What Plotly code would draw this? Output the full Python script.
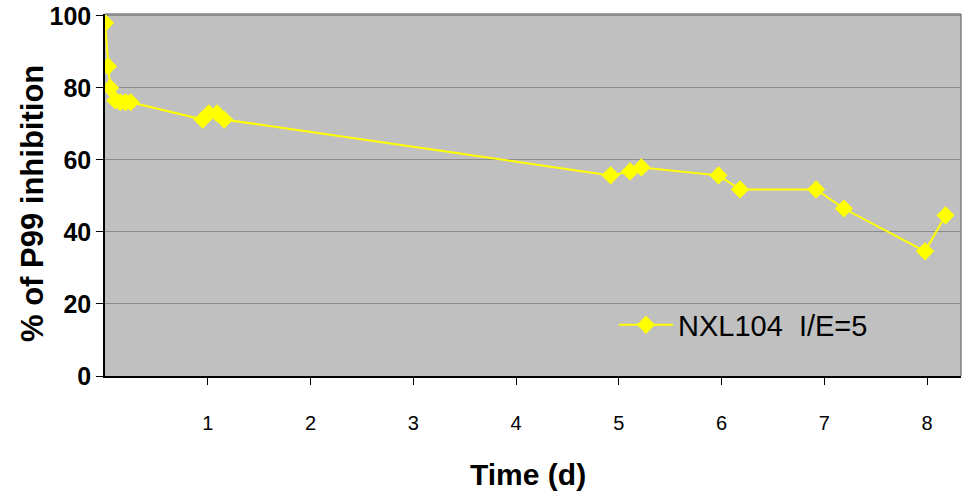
import plotly.graph_objects as go

time_d = [0.0, 0.03, 0.05, 0.10, 0.15, 0.20, 0.25, 0.95, 1.01, 1.09, 1.16,
          4.92, 5.11, 5.22, 5.97, 6.18, 6.92, 7.19, 7.98, 8.18]
inhibition = [98, 86, 80, 76.5, 76, 76, 76, 71.2, 72.9, 72.9, 71.2,
              55.7, 56.8, 57.9, 55.7, 51.8, 51.8, 46.5, 34.6, 44.6]
x_ticks = [1, 2, 3, 4, 5, 6, 7, 8]
y_ticks = [0, 20, 40, 60, 80, 100]
series_name = "NXL104  I/E=5"
x_title = "Time (d)"
y_title = "% of P99 inhibition"

fig = go.Figure()
fig.add_trace(go.Scatter(
    x=time_d, y=inhibition, mode="lines+markers", name=series_name,
    line=dict(color="#FFFF00", width=2),
    marker=dict(symbol="diamond", size=14, color="#FFFF00"),
))

PL, PR, PT, PB = 105, 961, 14, 376  # plot area in px
PW, PH = PR - PL, PB - PT

def px_x(p):
    return (p - PL) / PW

def px_y(p):
    return (PB - p) / PH

fig.update_layout(
    width=963, height=493,
    margin=dict(l=PL, r=963 - PR, t=PT, b=493 - PB),
    paper_bgcolor="white", plot_bgcolor="#C0C0C0",
    font=dict(family="Arial, Liberation Sans, sans-serif", color="black"),
    showlegend=True,
    legend=dict(x=px_x(614), y=px_y(325), xanchor="left", yanchor="middle",
                bgcolor="rgba(0,0,0,0)", font=dict(size=29, color="black"),
                borderwidth=0, itemwidth=54),
    xaxis=dict(range=[0, 8.33], tickvals=x_ticks, ticktext=[str(v) for v in x_ticks],
               ticks="outside", ticklen=7, tickcolor="black", showgrid=False,
               showline=True, linecolor="black", linewidth=1.5, mirror=False,
               tickfont=dict(size=20), ticklabelstandoff=21, zeroline=False),
    yaxis=dict(range=[0, 100.5], tickvals=y_ticks, ticktext=[f"<b>{v}</b>" for v in y_ticks],
               ticks="outside", ticklen=7, tickcolor="black", showgrid=True,
               gridcolor="#8C8C8C", gridwidth=1.2, zeroline=False,
               showline=True, linecolor="black", linewidth=1.5,
               tickfont=dict(size=25)),
    annotations=[
        dict(text=f"<b>{x_title}</b>", xref="paper", yref="paper",
             x=px_x(527.5), y=px_y(474), xanchor="center", yanchor="middle",
             showarrow=False, font=dict(size=30, color="black")),
        dict(text=f"<b>{y_title}</b>", xref="paper", yref="paper",
             x=px_x(32), y=px_y(204), xanchor="center", yanchor="middle",
             textangle=-90, showarrow=False, font=dict(size=31, color="black")),
    ],
)
# legend box background (covers gridline behind legend)
fig.add_shape(type="rect", xref="paper", yref="paper", layer="between",
              x0=px_x(609), x1=px_x(906), y0=px_y(350), y1=px_y(298),
              fillcolor="#C0C0C0", line=dict(width=0))
# top and right borders of plot area (gray)
fig.add_shape(type="line", xref="paper", yref="paper", x0=0, x1=1, y0=1, y1=1,
              line=dict(color="#808080", width=1.5))
fig.add_shape(type="line", xref="paper", yref="paper", x0=1, x1=1, y0=0, y1=1,
              line=dict(color="#808080", width=1.5))

fig.write_html("out.html")
